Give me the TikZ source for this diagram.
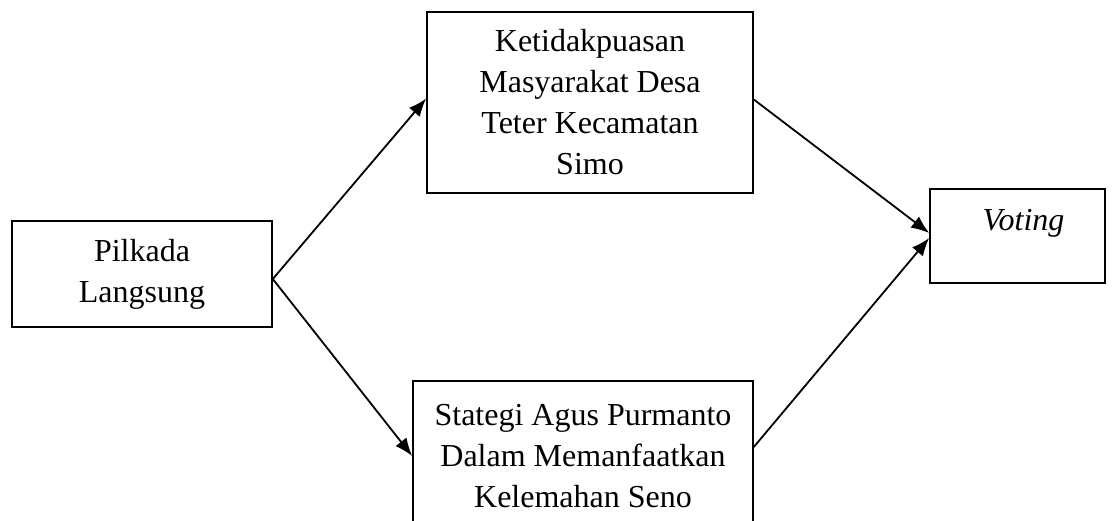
\documentclass[tikz,border=0pt]{standalone}
\usepackage{fontspec}
\setmainfont{Liberation Serif}
\usetikzlibrary{arrows.meta}
\begin{document}
\begin{tikzpicture}[
  x=0.5pt, y=-0.5pt,
  box/.style={draw, line width=0.8pt, align=center, inner sep=2pt,
              font=\fontsize{16}{20.5}\selectfont},
  arr/.style={-{Latex[length=9pt, width=7pt]}, line width=0.9pt}
]
  % Cadre de la page
  \clip (0,0) rectangle (1114,520);

  % Blocs
  \node[box, minimum width=130pt, minimum height=53pt]   (pil) at (142,274)    {Pilkada\\Langsung};
  \node[box, minimum width=163pt, minimum height=90.5pt] (ket) at (590,102.5)  {Ketidakpuasan\\Masyarakat Desa\\Teter Kecamatan\\Simo};
  \node[box, minimum width=170pt, minimum height=75pt]   (sta) at (583,456)    {Stategi Agus Purmanto\\Dalam Memanfaatkan\\Kelemahan Seno};
  \node[box, minimum width=87.5pt, minimum height=47pt,
        text height=11pt, text depth=17pt]               (vot) at (1017.5,236) {\hspace*{6pt}\textit{Voting}};

  % Fleches
  \draw[arr] ([yshift=-2.5pt]pil.east) -- ([yshift=2pt]ket.west);
  \draw[arr] ([yshift=-2.5pt]pil.east) -- (sta.west);
  \draw[arr] ([yshift=1.5pt]ket.east) -- ([yshift=1.5pt]vot.west);
  \draw[arr] ([yshift=4.5pt]sta.east) -- ([yshift=-1pt]vot.west);
\end{tikzpicture}
\end{document}
